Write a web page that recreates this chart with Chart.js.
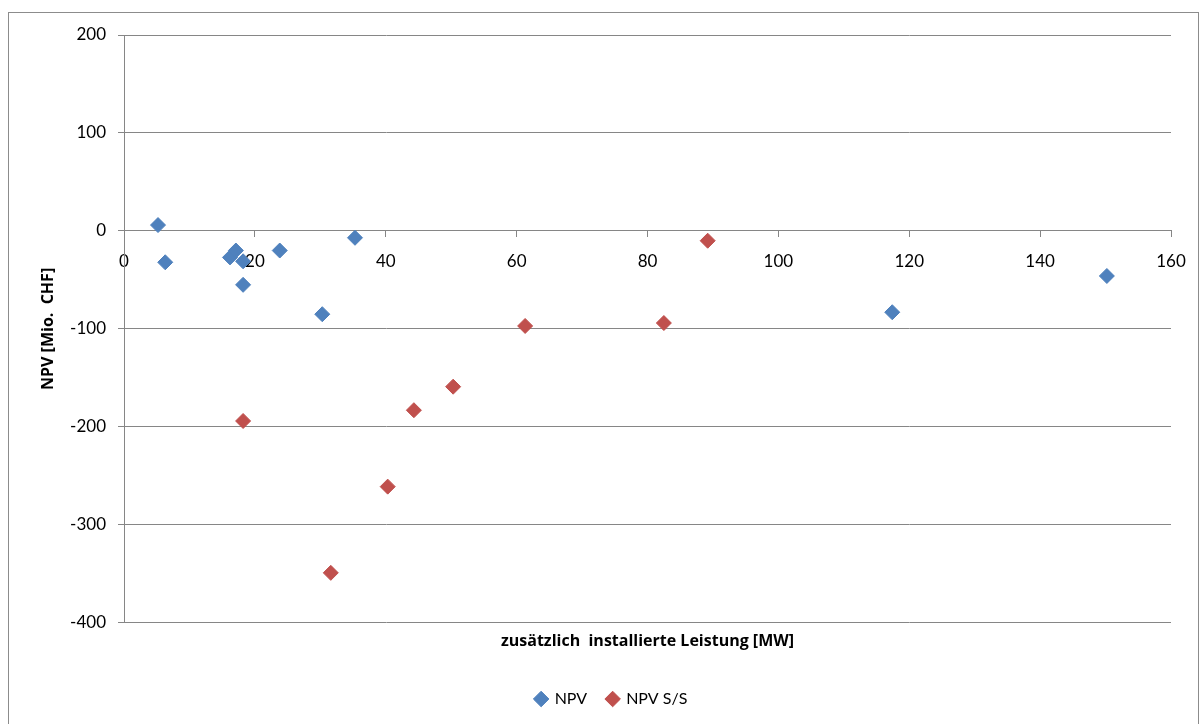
<!DOCTYPE html>
<html>
<head>
<meta charset="utf-8">
<script src="https://cdn.jsdelivr.net/npm/chart.js@4.4.1/dist/chart.umd.min.js"></script>
<style>
  html, body { margin: 0; padding: 0; background: #fff; }
  #wrap { width: 1201px; height: 724px; }
</style>
</head>
<body>
<div id="wrap"><canvas id="npvChart" width="1201" height="724"></canvas></div>
<script>
// Werte
const npvLeistung = [5.2, 6.3, 16.2, 17.1, 18.2, 18.2, 23.8, 30.3, 35.3, 117.4, 150.2];
const npvWerte    = [6, -32, -27, -20, -31, -55, -20, -85, -7, -83, -46];

const ssLeistung = [18.2, 31.6, 40.3, 44.3, 50.3, 61.3, 82.5, 89.2];
const ssWerte    = [-194, -349, -261, -183, -159, -97, -94, -10];

const xTicks = [0, 20, 40, 60, 80, 100, 120, 140, 160];
const yTicks = [200, 100, 0, -100, -200, -300, -400];

const xTitel = 'zusätzlich  installierte Leistung [MW]';
const yTitel = 'NPV [Mio.  CHF]';

const toPoints = (xs, ys) => xs.map((x, i) => ({ x: x, y: ys[i] }));

const FONT = 'Lato, "Open Sans", sans-serif';
const TITLE_FONT = '"Open Sans", Lato, sans-serif';

// Rahmen um das ganze Diagramm
const rahmen = {
    id: 'rahmen',
    beforeDraw(chart) {
        const ctx = chart.ctx;
        ctx.save();
        ctx.fillStyle = '#fff';
        ctx.fillRect(0, 0, chart.width, chart.height);
        ctx.strokeStyle = '#8c8c8c';
        ctx.lineWidth = 1;
        ctx.strokeRect(8.5, 12.5, 1190, 730);
        ctx.restore();
    }
};

new Chart(document.getElementById('npvChart'), {
    type: 'scatter',
    data: {
        datasets: [{
            label: 'NPV',
            data: toPoints(npvLeistung, npvWerte),
            backgroundColor: '#4f81bd',
            borderColor: '#4f81bd',
            pointStyle: 'rectRot',
            pointRadius: 7.5,
            pointHoverRadius: 7.5
        }, {
            label: 'NPV S/S',
            data: toPoints(ssLeistung, ssWerte),
            backgroundColor: '#c0504d',
            borderColor: '#c0504d',
            pointStyle: 'rectRot',
            pointRadius: 7.5,
            pointHoverRadius: 7.5
        }]
    },
    options: {
        responsive: false,
        animation: false,
        devicePixelRatio: 1,
        layout: { padding: { left: 52, right: 30, top: 35, bottom: 7 } },
        plugins: {
            tooltip: { enabled: false },
            // x-Achsentitel als Titel unten, direkt unter der Zeichenfläche
            title: {
                display: true,
                position: 'bottom',
                fullSize: false,
                text: xTitel,
                color: '#000',
                weight: 500,
                font: { family: TITLE_FONT, size: 16, weight: 'bold' },
                padding: { top: 9, bottom: 20 }
            },
            legend: {
                position: 'bottom',
                weight: 1000,
                labels: {
                    usePointStyle: true,
                    pointStyle: 'rectRot',
                    boxWidth: 11,
                    boxHeight: 11,
                    padding: 20,
                    color: '#000',
                    font: { family: FONT, size: 16 }
                }
            }
        },
        scales: {
            x: {
                type: 'linear',
                position: { y: 0 },
                min: 0,
                max: 160,
                afterBuildTicks: (scale) => { scale.ticks = xTicks.map(v => ({ value: v })); },
                ticks: {
                    color: '#000',
                    padding: 14,
                    font: { family: FONT, size: 17 }
                },
                grid: { drawOnChartArea: false, drawTicks: true, tickLength: 6, color: '#868686' },
                border: { display: true, color: '#868686', width: 1 }
            },
            y: {
                type: 'linear',
                min: -400,
                max: 200,
                afterBuildTicks: (scale) => { scale.ticks = yTicks.map(v => ({ value: v })); },
                afterFit: (scale) => { scale.width = 72; },
                ticks: {
                    color: '#000',
                    padding: 12,
                    font: { family: FONT, size: 17 }
                },
                grid: { color: '#868686', lineWidth: 1, tickLength: 6 },
                border: { display: true, color: '#868686', width: 1 },
                title: {
                    display: true,
                    text: yTitel,
                    color: '#000',
                    font: { family: TITLE_FONT, size: 16, weight: 'bold' },
                    padding: { top: -13, bottom: 0 }
                }
            }
        }
    },
    plugins: [rahmen]
});
</script>
</body>
</html>
